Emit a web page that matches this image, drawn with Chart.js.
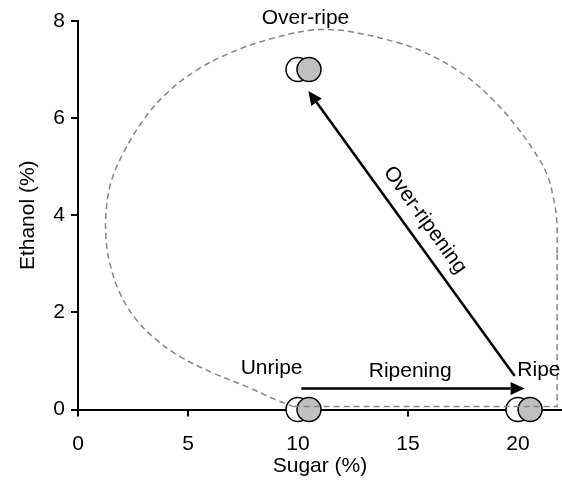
<!DOCTYPE html>
<html>
<head>
<meta charset="utf-8">
<script src="https://cdn.jsdelivr.net/npm/chart.js@4.4.1/dist/chart.umd.min.js"></script>
<style>
  body { margin: 0; background: #fff; }
</style>
</head>
<body>
<canvas id="myChart" width="562" height="487"></canvas>
<script>
// axis ticks
const xTicks = [0, 5, 10, 15, 20];
const yTicks = [0, 2, 4, 6, 8];
const xTitle = "Sugar (%)";
const yTitle = "Ethanol (%)";

// fruit stages: open and grey circles
const stages = ["Unripe", "Ripe", "Over-ripe"];
const whiteX = [10, 20, 10];
const whiteY = [0, 0, 7];
const greyX = [10.5, 20.55, 10.5];
const greyY = [0, 0, 7];
const stageLabelX = [8.8, 20.95, 10.34];
const stageLabelY = [0.85, 0.81, 8.05];

// dashed outline: straight part along the bottom/right, then the loop
const edgeX = [9.8, 21.78, 21.78];
const edgeY = [0.06, 0.06, 3.22];
const loopX = [21.78, 21.76, 21.6, 21.3, 20.7, 19.94, 18.88, 17.67, 16.15, 14.64, 12.4, 11.5, 10.55, 8.58, 6.91, 5.4, 4.03, 2.97, 2.06, 1.53, 1.3, 1.27, 1.45, 1.91, 2.67, 3.58, 4.64, 6.15, 7.67, 9.0, 9.8];
const loopY = [3.22, 3.9, 4.38, 4.86, 5.34, 5.82, 6.37, 6.85, 7.27, 7.54, 7.78, 7.82, 7.81, 7.61, 7.34, 6.99, 6.51, 5.96, 5.28, 4.72, 4.18, 3.56, 3.01, 2.39, 1.84, 1.43, 1.09, 0.75, 0.47, 0.2, 0.06];

// arrows
const arrowNames = ["Ripening", "Over-ripening"];
const arrowFromX = [10.15, 19.85];
const arrowFromY = [0.43, 0.69];
const arrowToX = [20.3, 10.47];
const arrowToY = [0.43, 6.56];
const arrowLabelX = [15.1, 15.77];
const arrowLabelY = [0.79, 3.9];

const FONT = "'Liberation Sans', Arial, sans-serif";
Chart.defaults.font.family = FONT;
Chart.defaults.font.size = 21;
Chart.defaults.color = "#000";

const zip = (xs, ys) => xs.map((v, i) => ({ x: v, y: ys[i] }));

// arrows and text labels
const annotations = {
    id: "annotations",
    afterDatasetsDraw(chart) {
        const { ctx, scales: { x, y } } = chart;
        ctx.save();
        ctx.fillStyle = "#000";
        ctx.strokeStyle = "#000";
        ctx.textAlign = "center";
        ctx.textBaseline = "middle";
        ctx.font = "21px " + FONT;

        arrowNames.forEach((name, i) => {
            const x1 = x.getPixelForValue(arrowFromX[i]);
            const y1 = y.getPixelForValue(arrowFromY[i]);
            const x2 = x.getPixelForValue(arrowToX[i]);
            const y2 = y.getPixelForValue(arrowToY[i]);
            const ang = Math.atan2(y2 - y1, x2 - x1);
            const c = Math.cos(ang), s = Math.sin(ang);
            const head = 14, half = 6.5;
            const bx = x2 - head * c, by = y2 - head * s;

            ctx.lineWidth = 2.5;
            ctx.beginPath();
            ctx.moveTo(x1, y1);
            ctx.lineTo(bx, by);
            ctx.stroke();

            ctx.beginPath();
            ctx.moveTo(x2, y2);
            ctx.lineTo(bx + half * s, by - half * c);
            ctx.lineTo(bx - half * s, by + half * c);
            ctx.closePath();
            ctx.fill();

            let rot = ang;
            if (rot > Math.PI / 2) rot -= Math.PI;
            if (rot < -Math.PI / 2) rot += Math.PI;
            ctx.save();
            ctx.translate(x.getPixelForValue(arrowLabelX[i]), y.getPixelForValue(arrowLabelY[i]));
            ctx.rotate(rot);
            ctx.fillText(name, 0, 0);
            ctx.restore();
        });

        stages.forEach((name, i) => {
            ctx.fillText(name, x.getPixelForValue(stageLabelX[i]), y.getPixelForValue(stageLabelY[i]));
        });
        ctx.restore();
    }
};

const ctx = document.getElementById("myChart").getContext("2d");

new Chart(ctx, {
    type: "scatter",
    data: {
        datasets: [
            {
                data: zip(loopX, loopY),
                showLine: true,
                tension: 0.4,
                borderColor: "#858585",
                borderWidth: 1.5,
                borderDash: [6, 4],
                pointRadius: 0
            },
            {
                data: zip(edgeX, edgeY),
                showLine: true,
                tension: 0,
                borderColor: "#858585",
                borderWidth: 1.5,
                borderDash: [6, 4],
                pointRadius: 0
            },
            {
                data: zip(greyX, greyY),
                pointRadius: 12,
                backgroundColor: "#c0c0c0",
                borderColor: "#000",
                borderWidth: 1.5
            },
            {
                data: zip(whiteX, whiteY),
                pointRadius: 12,
                backgroundColor: "#fff",
                borderColor: "#000",
                borderWidth: 1.5
            }
        ]
    },
    options: {
        responsive: false,
        animation: false,
        events: [],
        clip: false,
        layout: { autoPadding: false, padding: { top: 21, right: 0, left: 0, bottom: 0 } },
        plugins: {
            legend: { display: false },
            tooltip: { enabled: false }
        },
        scales: {
            x: {
                type: "linear",
                min: 0,
                max: 22,
                afterBuildTicks: s => { s.ticks = xTicks.map(v => ({ value: v })); },
                afterFit: s => { s.height = 77.5; s.paddingLeft = 0; s.paddingRight = 0; },
                ticks: { padding: 15 },
                grid: { display: true, drawOnChartArea: false, drawTicks: true, tickLength: 7, color: "#000", lineWidth: 2 },
                border: { display: true, color: "#000", width: 2 },
                title: { display: true, text: xTitle, padding: { top: 0, bottom: 8 } }
            },
            y: {
                type: "linear",
                min: 0,
                max: 8,
                afterBuildTicks: s => { s.ticks = yTicks.map(v => ({ value: v })); },
                afterFit: s => { s.width = 78; s.paddingTop = 0; s.paddingBottom = 0; },
                ticks: { padding: 6 },
                grid: { display: true, drawOnChartArea: false, drawTicks: true, tickLength: 7, color: "#000", lineWidth: 2 },
                border: { display: true, color: "#000", width: 2 },
                title: { display: true, text: yTitle, padding: { top: 16, bottom: 0 } }
            }
        }
    },
    plugins: [annotations]
});
</script>
</body>
</html>
